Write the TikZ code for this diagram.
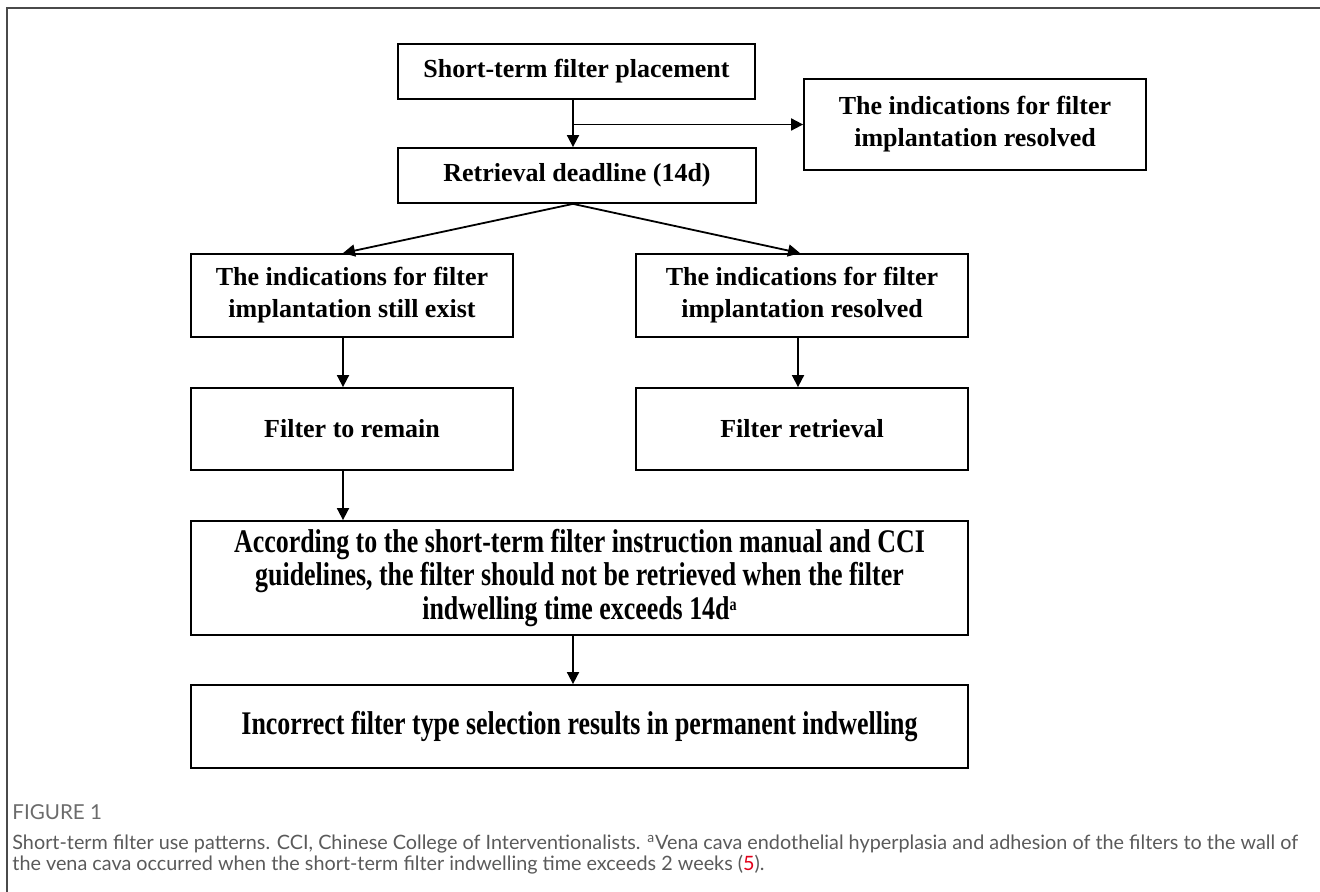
\documentclass[tikz,border=0pt]{standalone}
\usepackage{fontspec}
\setmainfont{Liberation Serif}
\newfontfamily\narrowfont[FakeStretch=0.785]{Liberation Serif}
\newfontfamily\captionfont{Lato}
\usetikzlibrary{arrows.meta}
\definecolor{framegray}{HTML}{4A4A4A}
\definecolor{capgray}{HTML}{5A5A5A}
\definecolor{refred}{HTML}{E2001A}
\newcommand{\supa}{\raisebox{4.5pt}{\fontsize{9}{9}\selectfont a}}

\begin{document}
\begin{tikzpicture}[x=0.5pt, y=-0.5pt,
  box/.style={draw, line width=0.9pt, align=center, inner sep=0pt,
    font=\fontsize{13}{16}\selectfont\bfseries},
  widebox/.style={box, minimum width=388.5pt,
    font=\narrowfont\fontsize{16.5}{16.8}\selectfont\bfseries},
  arr/.style={-{Triangle[length=6pt,width=6pt]}, line width=0.9pt}]
  \useasboundingbox (0,0) rectangle (1320,892);
  % frame
  \draw[framegray, line width=0.75pt] (7,892) -- (7,8) -- (1320,8);
  % top boxes
  \node[box, minimum width=178.5pt, minimum height=27.5pt] (place) at (576.5,71.5) {Short-term filter placement};
  \node[box, minimum width=171pt, minimum height=45.5pt] (early) at (975,124.5) {The indications for filter\\implantation resolved};
  \node[box, minimum width=179pt, minimum height=27.5pt] (deadline) at (577,175.5) {Retrieval deadline (14d)};
  % two branches
  \node[box, minimum width=161pt, minimum height=41.5pt] (exist) at (352,295.5) {The indications for filter\\implantation still exist};
  \node[box, minimum width=166pt, minimum height=41.5pt] (resolved) at (802,295.5) {The indications for filter\\implantation resolved};
  \node[box, minimum width=161pt, minimum height=41pt] (remain) at (352,429) {Filter to remain};
  \node[box, minimum width=166pt, minimum height=41pt] (retrieval) at (802,429) {Filter retrieval};
  % bottom boxes
  \node[widebox, minimum height=57pt] (manual) at (579.5,578) {According to the short-term filter instruction manual and CCI\\guidelines, the filter should not be retrieved when the filter\\indwelling time exceeds 14d\supa};
  \node[widebox, minimum height=41.5pt] (permanent) at (579.5,726.5) {Incorrect filter type selection results in permanent indwelling};
  % arrows
  \draw[arr] ([xshift=-1.75pt]place.south) -- ([xshift=-1.75pt]place.south |- deadline.north);
  \draw[arr] ([xshift=-1.75pt]place.south |- early.west) -- (early.west);
  \draw[arr] ([xshift=-2pt]deadline.south) -- ([xshift=-4.5pt]exist.north);
  \draw[arr] ([xshift=-2pt]deadline.south) -- ([xshift=-1pt]resolved.north);
  \draw[arr] ([xshift=-4.5pt]exist.south) -- ([xshift=-4.5pt]remain.north);
  \draw[arr] ([xshift=-2pt]resolved.south) -- ([xshift=-2pt]retrieval.north);
  \draw[arr] ([xshift=-4.5pt]remain.south) -- ([xshift=-4.5pt]remain.south |- manual.north);
  \draw[arr] ([xshift=-3.25pt]manual.south) -- ([xshift=-3.25pt]manual.south |- permanent.north);
  % caption
  \node[anchor=west, inner sep=0pt, text=capgray!90, font=\captionfont\fontsize{10.3}{11}\selectfont] (figlabel) at (12,812) {FIGURE 1};
  \node[anchor=north west, inner sep=0pt, align=left, text=capgray, font=\captionfont\fontsize{9.9}{10.5}\selectfont] (caption) at (12,835) {Short-term filter use patterns. CCI, Chinese College of Interventionalists. \textsuperscript{a}Vena cava endothelial hyperplasia and adhesion of the filters to the wall of\\the vena cava occurred when the short-term filter indwelling time exceeds 2 weeks (\textcolor{refred}{5}).};
\end{tikzpicture}
\end{document}
